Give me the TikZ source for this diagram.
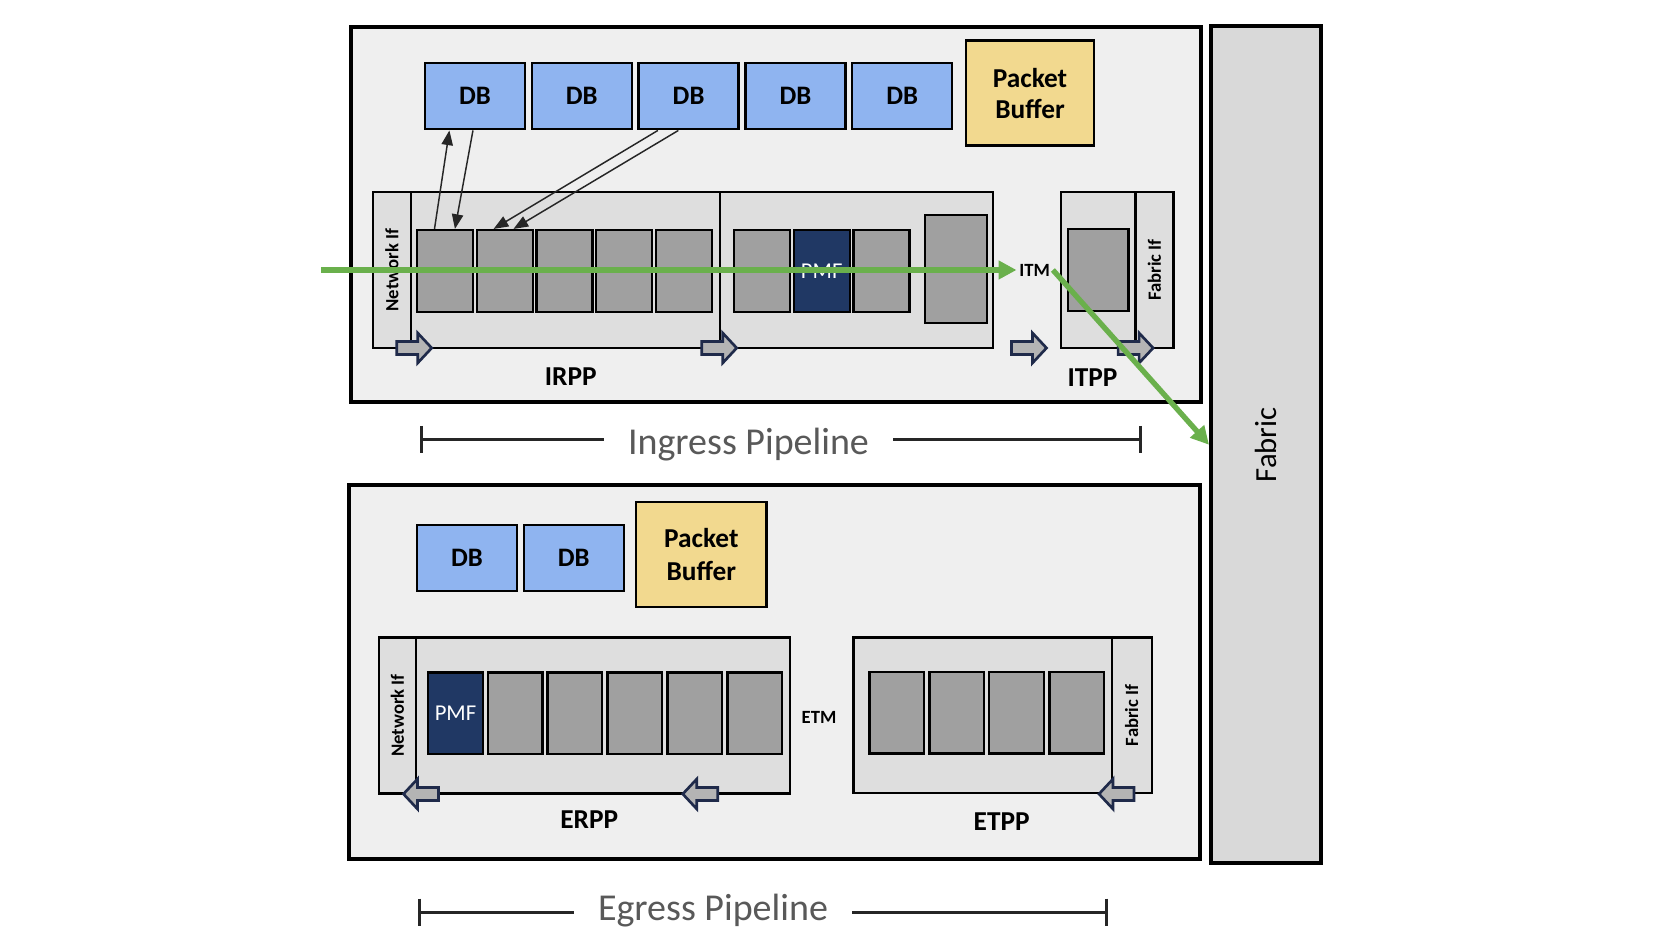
\documentclass[tikz,border=0pt]{standalone}
\usepackage{fontspec}
\setmainfont{Carlito}
\usetikzlibrary{calc,arrows.meta}

\definecolor{panel}{HTML}{EFEFEF}
\definecolor{stage}{HTML}{DEDEDE}
\definecolor{cellgray}{HTML}{A0A0A0}
\definecolor{dbblue}{HTML}{8FB4F0}
\definecolor{bufyel}{HTML}{F2D98F}
\definecolor{pmfnavy}{HTML}{203864}
\definecolor{fabgray}{HTML}{D9D9D9}
\definecolor{flowgreen}{HTML}{6AB04C}
\definecolor{arrnavy}{HTML}{1F2A4A}
\definecolor{arrfill}{HTML}{B4B4B4}
\definecolor{captxt}{HTML}{595959}

\newcommand\iftext[1]{\rotatebox{90}{\fontsize{14}{16}\selectfont\bfseries #1}}

\tikzset{
  panelbox/.style={draw=black, line width=3pt, fill=panel, inner sep=0pt},
  stagebox/.style={draw=black, line width=1.8pt, fill=stage, inner sep=0pt},
  cellbox/.style={draw=black, line width=1.8pt, fill=cellgray, inner sep=0pt,
    minimum width=42pt, minimum height=61.3pt},
  pmfbox/.style={cellbox, fill=pmfnavy, text=white, font=\fontsize{17}{20}\selectfont},
  dbbox/.style={draw=black, line width=1.8pt, fill=dbblue, inner sep=0pt,
    minimum width=75pt, minimum height=49.5pt, font=\fontsize{20}{23}\selectfont\bfseries},
  bufbox/.style={draw=black, line width=1.8pt, fill=bufyel, inner sep=0pt, align=center,
    minimum height=78.75pt, font=\fontsize{20.5}{24.5}\selectfont\bfseries},
  stagelabel/.style={font=\fontsize{20.5}{24}\selectfont\bfseries},
  tmlabel/.style={font=\fontsize{14}{16}\selectfont\bfseries, inner sep=2pt},
  caption/.style={text=captxt, font=\fontsize{28.5}{32}\selectfont, inner sep=18pt},
  bracket/.style={line width=2.25pt, draw=black!85},
  dbarrow/.style={line width=1.1pt, draw=black!85, -{Triangle[length=11pt, width=8.5pt]}},
  flow/.style={line width=4pt, draw=flowgreen, -{Triangle[length=13.5pt, width=13.5pt]}},
  pics/fatarrow/.style={code={
    \draw[draw=arrnavy, fill=arrfill, line width=2pt, line join=miter]
      (-17.5,-6.5) -- (3.5,-6.5) -- (3.5,-15) -- (17.5,0) -- (3.5,15)
      -- (3.5,6.5) -- (-17.5,6.5) -- cycle;}}
}

\begin{document}
\begin{tikzpicture}[x=0.75pt, y=-0.75pt]
\useasboundingbox (0,0) rectangle (1679,944);
\fill[white] (0,0) rectangle (1679,944);

% ---------------- fabric ----------------
\node[panelbox, fill=fabgray, minimum width=82.5pt, minimum height=627.4pt] (fab) at (1266,444.75)
  {\fontsize{23}{26}\selectfont\rotatebox{90}{Fabric}};

% ---------------- ingress side ----------------
\node[panelbox, minimum width=637.5pt, minimum height=281.25pt] (ing) at (776,214.5) {};

\node[dbbox] (db1) at (475,96.25) {DB};
\node[dbbox] (db2) at (581.8,96.25) {DB};
\node[dbbox] (db3) at (688.6,96.25) {DB};
\node[dbbox] (db4) at (795.4,96.25) {DB};
\node[dbbox] (db5) at (902.2,96.25) {DB};
\node[bufbox, minimum width=96pt] (pb1) at (1030,93.2) {\raisebox{-1.5pt}{Packet}\\Buffer};

\node[stagebox, minimum width=28.5pt, minimum height=117.2pt] (nif1) at (392,270.15) {\iftext{Network If}};
\node[stagebox, minimum width=231.75pt, minimum height=117.2pt] (irppA) at (565.5,270.15) {};
\node[stagebox, minimum width=204.75pt, minimum height=117.2pt] (irppB) at (856.5,270.15) {};
\node[stagebox, minimum width=55.9pt, minimum height=117.2pt] (itpp) at (1098.25,270.15) {};
\node[stagebox, minimum width=28.5pt, minimum height=117.2pt] (fif1) at (1154.5,270.15) {\iftext{Fabric If}};

\node[cellbox] (c1) at (445,271) {};
\node[cellbox] (c2) at (504.7,271) {};
\node[cellbox] (c3) at (564.4,271) {};
\node[cellbox] (c4) at (624.1,271) {};
\node[cellbox] (c5) at (683.8,271) {};
\node[cellbox] (c6) at (762,271) {};
\node[pmfbox] (pmf1) at (821.7,271) {PMF};
\node[cellbox] (c8) at (881.4,271) {};
\node[cellbox, minimum width=46.5pt, minimum height=80.8pt] (c9) at (956,268.9) {};
\node[cellbox, minimum width=45.5pt] (c10) at (1098.3,269.9) {};

\node[stagelabel] (irpplbl) at (570.7,377) {IRPP};
\node[stagelabel] (itpplbl) at (1092.5,378) {ITPP};
\node[tmlabel] (itm) at (1034.7,270) {ITM};

\pic at (414.2,348) {fatarrow};
\pic at (719.2,348) {fatarrow};
\pic at (1029,348) {fatarrow};
\pic at (1135.6,348) {fatarrow};

% lookups between the first stages and the databases
\draw[dbarrow] ($(c1.north west)!0.32!(c1.north east)$) -- ($(db1.south west)!0.25!(db1.south east)$);
\draw[dbarrow] ($(db1.south west)!0.48!(db1.south east)$) -- ($(c1.north west)!0.67!(c1.north east)$);
\draw[dbarrow] ($(db3.south west)!0.2!(db3.south east)$) -- ($(c2.north west)!0.31!(c2.north east)$);
\draw[dbarrow] ($(db3.south west)!0.4!(db3.south east)$) -- ($(c2.north west)!0.65!(c2.north east)$);

% ingress span
\coordinate (igL) at (421.5,439.5);
\coordinate (igR) at (1140.5,439.5);
\node[caption] (igT) at (748.5,445) {Ingress Pipeline};
\draw[bracket] (igL) -- (igL -| igT.west);
\draw[bracket] (igR -| igT.east) -- (igR);
\draw[bracket] ($(igL)+(0,-13.5)$) -- ($(igL)+(0,13.5)$);
\draw[bracket] ($(igR)+(0,-13.5)$) -- ($(igR)+(0,13.5)$);

% ---------------- egress side ----------------
\node[panelbox, minimum width=638pt, minimum height=280.35pt] (egr) at (774.65,671.9) {};

\node[dbbox] (edb1) at (467,558.3) {DB};
\node[dbbox] (edb2) at (573.7,558.3) {DB};
\node[bufbox, minimum width=98pt] (pb2) at (701.3,554.8) {Packet\\Buffer};

\node[stagebox, minimum width=27.75pt, minimum height=116.7pt] (nif2) at (397.5,715.5) {\iftext{Network If}};
\node[stagebox, minimum width=280.5pt, minimum height=116.7pt] (erpp) at (603,715.5) {};
\node[stagebox, minimum width=193.8pt, minimum height=116.7pt] (etpp) at (982.5,715.3) {};
\node[stagebox, minimum width=30pt, minimum height=116.7pt] (fif2) at (1131.7,715.3) {\iftext{Fabric If}};

\node[pmfbox, minimum width=41pt] (pmf2) at (455.5,713.2) {PMF};
\node[cellbox, minimum width=41pt] (e2) at (515.3,713.2) {};
\node[cellbox, minimum width=41pt] (e3) at (574.9,713.2) {};
\node[cellbox, minimum width=41pt] (e4) at (634.7,713.2) {};
\node[cellbox, minimum width=41pt] (e5) at (694.7,713.2) {};
\node[cellbox, minimum width=41pt] (e6) at (754.7,713.2) {};

\node[cellbox, minimum width=41pt] (t1) at (896.8,712.8) {};
\node[cellbox, minimum width=41pt] (t2) at (956.9,712.8) {};
\node[cellbox, minimum width=41pt] (t3) at (1016.5,712.8) {};
\node[cellbox, minimum width=41pt] (t4) at (1076.7,712.8) {};

\node[stagelabel] (erpplbl) at (589.3,820) {ERPP};
\node[stagelabel] (etpplbl) at (1001.7,821.7) {ETPP};
\node[tmlabel] (etm) at (819,717.3) {ETM};

\pic[rotate=180] at (421,794) {fatarrow};
\pic[rotate=180] at (700.3,794) {fatarrow};
\pic[rotate=180] at (1116.5,794) {fatarrow};

% egress span
\coordinate (egL) at (419.6,912);
\coordinate (egR) at (1106.3,912);
\node[caption] (egT) at (713,910.5) {Egress Pipeline};
\draw[bracket] (egL) -- (egL -| egT.west);
\draw[bracket] (egR -| egT.east) -- (egR);
\draw[bracket] ($(egL)+(0,-13.5)$) -- ($(egL)+(0,13.5)$);
\draw[bracket] ($(egR)+(0,-13.5)$) -- ($(egR)+(0,13.5)$);

% ---------------- packet path ----------------
\coordinate (gin) at (321,270);
\draw[flow] (gin) -- (itm.west);
\draw[flow] (itm.east) -- (fab.west);

\end{tikzpicture}
\end{document}
